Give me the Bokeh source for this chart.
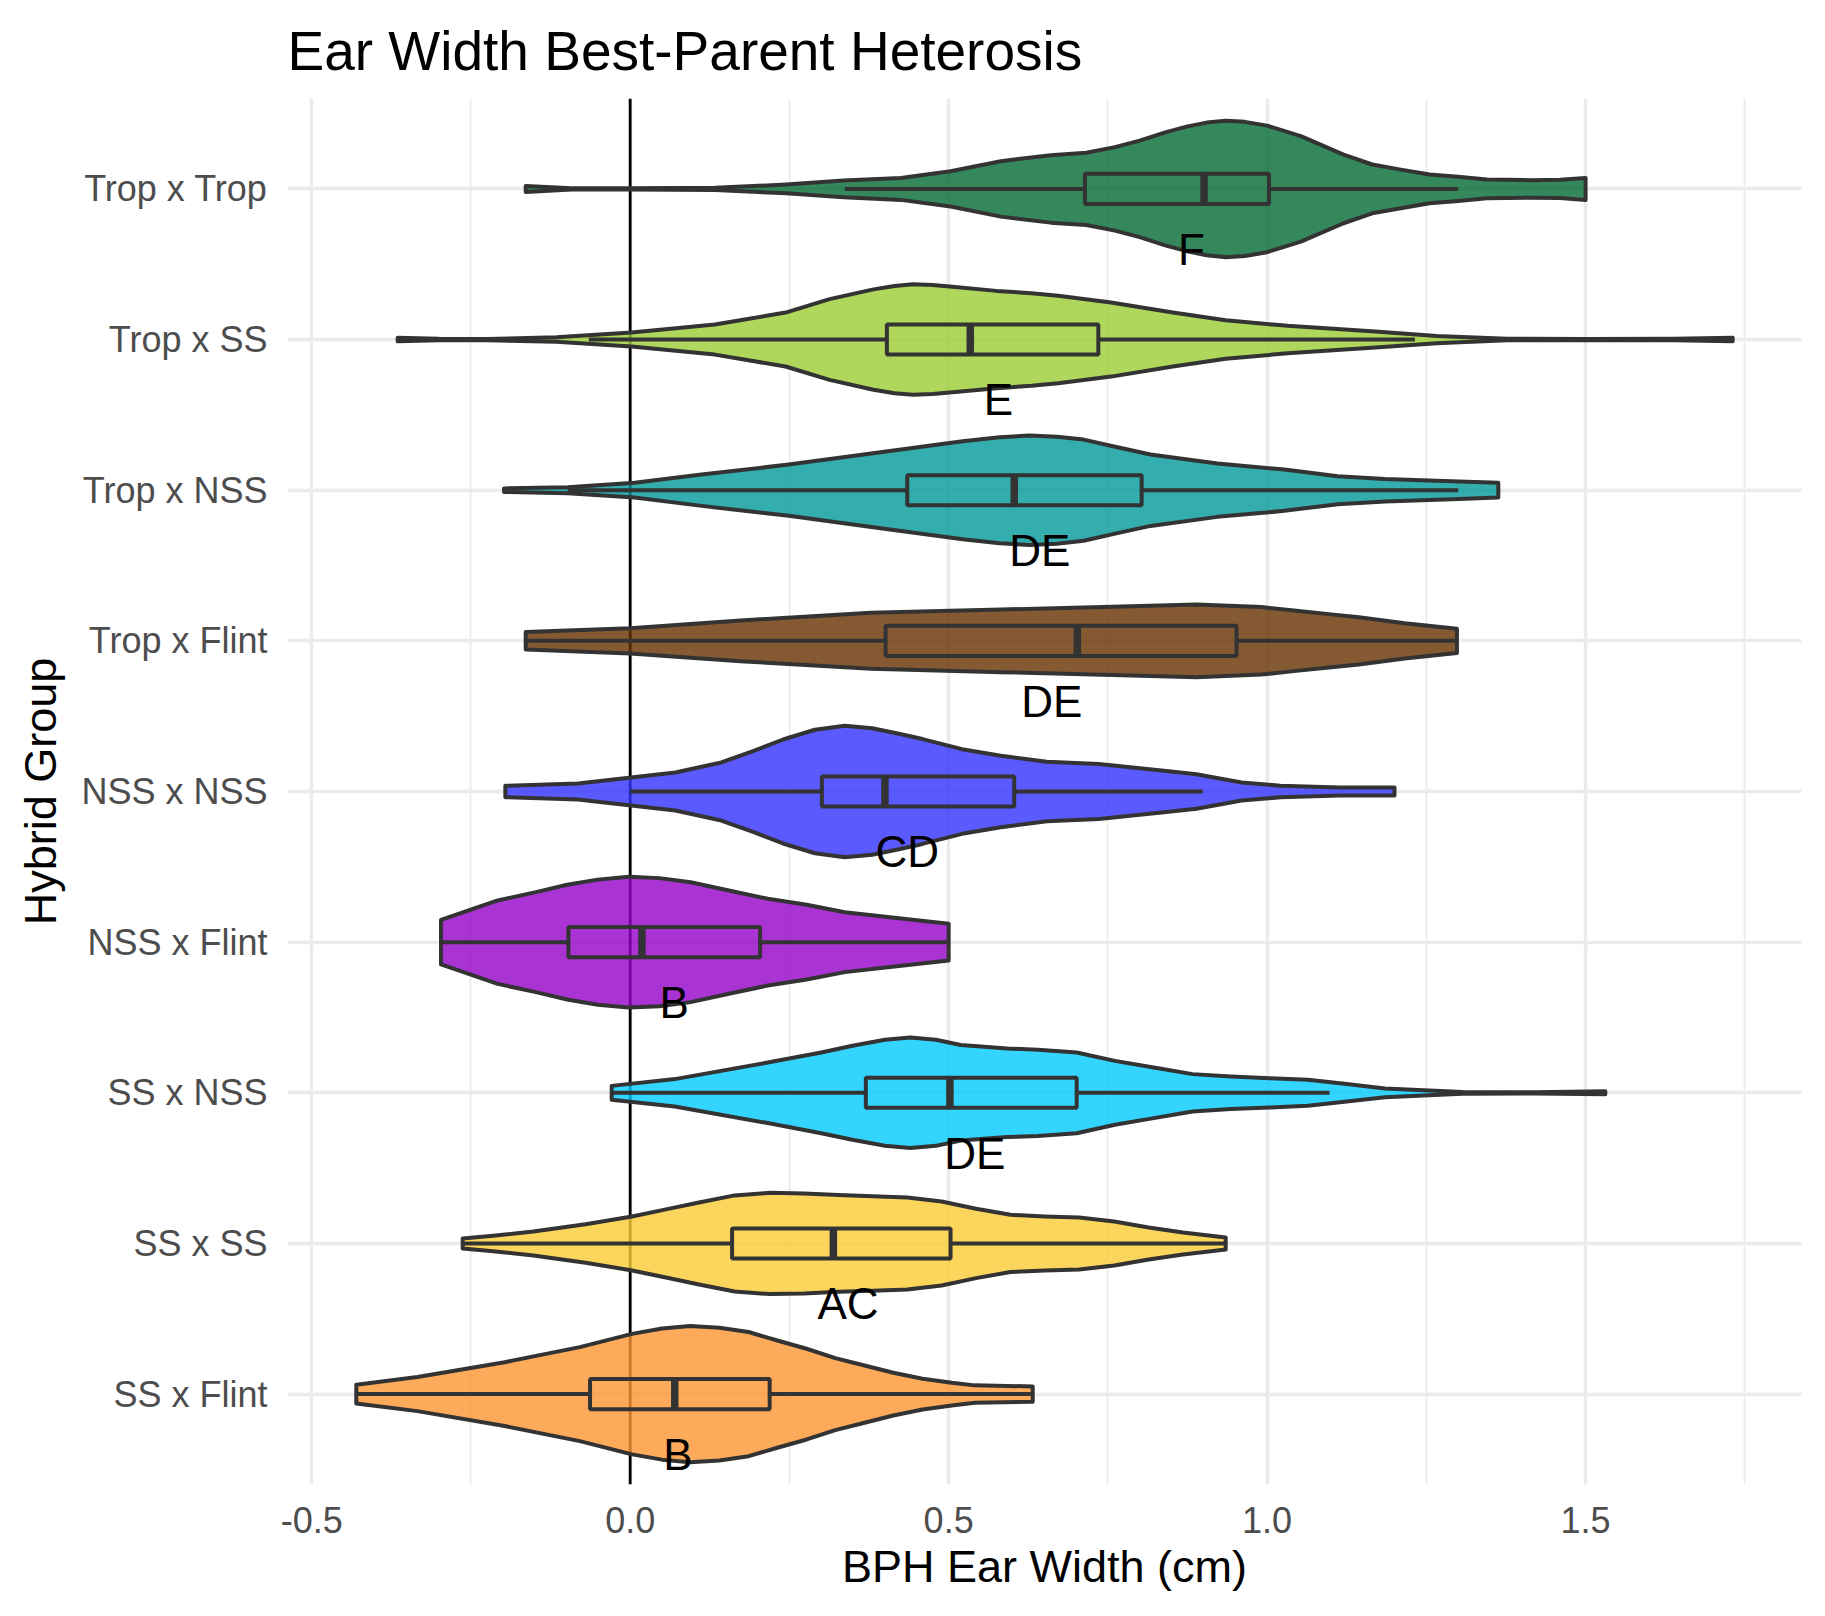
from bokeh.plotting import figure
from bokeh.models import Range1d, FixedTicker, Span
from bokeh.embed import file_html
from bokeh.resources import INLINE
from bokeh.core.properties import value

# ---- categories (bottom to top) ----
groups = ["SS x Flint", "SS x SS", "SS x NSS", "NSS x Flint", "NSS x NSS",
          "Trop x Flint", "Trop x NSS", "Trop x SS", "Trop x Trop"]
colors = ["#FD9631", "#FBCC33", "#00CBFF", "#9500C9", "#3131FF",
          "#663100", "#009898", "#9ACD32", "#026A33"]

# ---- violin outlines: x positions and half-widths (category units) ----
ss_flint_x = [-0.43, -0.334, -0.197, -0.079, 0.003, 0.05, 0.094, 0.14, 0.186, 0.231, 0.277, 0.322, 0.368, 0.413, 0.459, 0.505, 0.541, 0.632]
ss_flint_w = [0.062, 0.113, 0.212, 0.312, 0.40, 0.435, 0.452, 0.44, 0.412, 0.356, 0.301, 0.239, 0.19, 0.142, 0.102, 0.075, 0.058, 0.051]

ss_ss_x = [-0.263, -0.215, -0.152, -0.07, 0.003, 0.058, 0.11, 0.164, 0.219, 0.273, 0.327, 0.381, 0.435, 0.489, 0.543, 0.597, 0.651, 0.705, 0.76, 0.814, 0.868, 0.935]
ss_ss_w = [0.033, 0.051, 0.08, 0.128, 0.179, 0.228, 0.274, 0.319, 0.336, 0.332, 0.321, 0.314, 0.305, 0.279, 0.23, 0.19, 0.179, 0.173, 0.146, 0.106, 0.073, 0.04]

ss_nss_x = [-0.029, 0.07, 0.216, 0.30, 0.349, 0.40, 0.44, 0.48, 0.519, 0.592, 0.64, 0.701, 0.761, 0.822, 0.883, 0.943, 1.004, 1.064, 1.125, 1.185, 1.307, 1.42, 1.531]
ss_nss_w = [0.046, 0.091, 0.201, 0.268, 0.312, 0.352, 0.367, 0.352, 0.317, 0.294, 0.286, 0.268, 0.212, 0.168, 0.124, 0.108, 0.097, 0.086, 0.058, 0.029, 0.006, 0.004, 0.01]

nss_flint_x = [-0.297, -0.208, -0.148, -0.099, -0.051, -0.002, 0.046, 0.095, 0.155, 0.216, 0.277, 0.337, 0.422, 0.50]
nss_flint_w = [0.148, 0.277, 0.332, 0.381, 0.415, 0.434, 0.425, 0.398, 0.343, 0.288, 0.248, 0.199, 0.159, 0.122]

nss_nss_x = [-0.196, -0.082, 0.071, 0.143, 0.194, 0.24, 0.29, 0.337, 0.38, 0.42, 0.459, 0.521, 0.582, 0.654, 0.736, 0.838, 0.889, 0.96, 1.021, 1.114, 1.20]
nss_nss_w = [0.038, 0.053, 0.126, 0.193, 0.27, 0.345, 0.41, 0.436, 0.42, 0.385, 0.348, 0.281, 0.237, 0.197, 0.182, 0.137, 0.115, 0.06, 0.038, 0.027, 0.027]

trop_flint_x = [-0.164, 0.0, 0.173, 0.378, 0.582, 0.787, 0.889, 0.991, 1.042, 1.093, 1.144, 1.216, 1.298]
trop_flint_w = [0.058, 0.084, 0.135, 0.186, 0.208, 0.23, 0.241, 0.224, 0.201, 0.179, 0.157, 0.117, 0.08]

trop_nss_x = [-0.198, -0.098, 0.007, 0.112, 0.249, 0.396, 0.522, 0.58, 0.627, 0.67, 0.712, 0.765, 0.817, 0.922, 1.027, 1.111, 1.185, 1.29, 1.363]
trop_nss_w = [0.012, 0.02, 0.049, 0.104, 0.17, 0.254, 0.325, 0.352, 0.363, 0.355, 0.336, 0.285, 0.237, 0.177, 0.137, 0.093, 0.075, 0.06, 0.049]

trop_ss_x = [-0.365, -0.30, -0.226, -0.116, 0.002, 0.133, 0.244, 0.313, 0.382, 0.415, 0.444, 0.475, 0.506, 0.575, 0.63, 0.672, 0.755, 0.852, 0.935, 1.032, 1.17, 1.266, 1.377, 1.50, 1.64, 1.731]
trop_ss_w = [0.012, 0.005, 0.004, 0.015, 0.046, 0.10, 0.179, 0.268, 0.333, 0.356, 0.367, 0.362, 0.35, 0.323, 0.307, 0.29, 0.246, 0.179, 0.128, 0.091, 0.053, 0.024, 0.005, 0.004, 0.005, 0.012]

trop_trop_x = [-0.164, -0.092, 0.0, 0.133, 0.245, 0.335, 0.425, 0.503, 0.582, 0.66, 0.716, 0.761, 0.80, 0.84, 0.875, 0.905, 0.935, 0.965, 1.0, 1.053, 1.12, 1.165, 1.21, 1.255, 1.30, 1.345, 1.412, 1.46, 1.50]
trop_trop_w = [0.02, 0.004, 0.004, 0.007, 0.029, 0.055, 0.073, 0.117, 0.184, 0.224, 0.24, 0.277, 0.32, 0.375, 0.415, 0.44, 0.453, 0.445, 0.42, 0.35, 0.228, 0.162, 0.128, 0.095, 0.08, 0.062, 0.058, 0.06, 0.073]

violin_x = [ss_flint_x, ss_ss_x, ss_nss_x, nss_flint_x, nss_nss_x,
            trop_flint_x, trop_nss_x, trop_ss_x, trop_trop_x]
violin_w = [ss_flint_w, ss_ss_w, ss_nss_w, nss_flint_w, nss_nss_w,
            trop_flint_w, trop_nss_w, trop_ss_w, trop_trop_w]

# ---- box plot statistics ----
q1 = [-0.063, 0.16, 0.37, -0.097, 0.301, 0.401, 0.435, 0.403, 0.714]
med = [0.07, 0.319, 0.502, 0.0185, 0.40, 0.702, 0.603, 0.534, 0.901]
q3 = [0.219, 0.503, 0.701, 0.204, 0.603, 0.952, 0.803, 0.735, 1.003]
wlo = [-0.43, -0.263, -0.029, -0.297, 0.0, -0.164, -0.098, -0.065, 0.337]
whi = [0.632, 0.933, 1.098, 0.50, 0.899, 1.298, 1.30, 1.232, 1.30]

# ---- significance letters ----
letters = ["B", "AC", "DE", "B", "CD", "DE", "DE", "E", "F"]
letter_x = [0.075, 0.342, 0.541, 0.069, 0.435, 0.662, 0.643, 0.578, 0.881]

x_ticks = [-0.5, 0.0, 0.5, 1.0, 1.5]
x_minor = [-0.25, 0.25, 0.75, 1.25, 1.75]
x_tick_labels = ["-0.5", "0.0", "0.5", "1.0", "1.5"]

FONT = "Liberation Sans"
OUT = "#333333"
LW = 4.0

pos = list(range(1, len(groups) + 1))

p = figure(width=1825, height=1616, output_backend="svg", toolbar_location=None,
           x_range=Range1d(-0.538, 1.839), y_range=Range1d(0.4, 9.6),
           min_border_left=287, min_border_right=24, min_border_top=98,
           min_border_bottom=132, title="Ear Width Best-Parent Heterosis")
p.background_fill_color = "white"
p.border_fill_color = "white"
p.outline_line_color = None

p.title.text_font = FONT
p.title.text_font_size = "55px"
p.title.text_font_style = "normal"
p.title.text_color = "black"
p.title.standoff = 34
p.title.offset = 0

# axes
p.xaxis.ticker = FixedTicker(ticks=x_ticks, minor_ticks=x_minor)
p.xaxis.major_label_overrides = {t: l for t, l in zip(x_ticks, x_tick_labels)}
p.yaxis.ticker = FixedTicker(ticks=pos)
p.yaxis.major_label_overrides = {k: g for k, g in zip(pos, groups)}
for ax in (p.xaxis, p.yaxis):
    ax.axis_line_color = None
    ax.major_tick_line_color = None
    ax.minor_tick_line_color = None
    ax.major_tick_out = 0
    ax.major_tick_in = 0
    ax.major_label_text_font = FONT
    ax.major_label_text_font_size = "36px"
    ax.major_label_text_color = "#4D4D4D"
    ax.axis_label_text_font = FONT
    ax.axis_label_text_font_size = "45px"
    ax.axis_label_text_font_style = "normal"
    ax.axis_label_text_color = "black"
p.xaxis.axis_label = "BPH Ear Width (cm)"
p.yaxis.axis_label = "Hybrid Group"
p.xaxis.major_label_standoff = 18
p.xaxis.axis_label_standoff = 5
p.yaxis.major_label_standoff = 20
p.yaxis.axis_label_standoff = 12

# grid
p.xgrid.grid_line_color = "#EBEBEB"
p.xgrid.grid_line_width = 3.5
p.xgrid.minor_grid_line_color = "#EBEBEB"
p.xgrid.minor_grid_line_width = 1.8
p.ygrid.grid_line_color = "#EBEBEB"
p.ygrid.grid_line_width = 3.5

# reference line at zero (beneath the violins)
p.add_layout(Span(location=0, dimension="height", line_color="black",
                  line_width=2.8, level="underlay"))

# violins
xs, ys = [], []
for c, vx, vw in zip(pos, violin_x, violin_w):
    xs.append(list(vx) + list(vx)[::-1])
    ys.append([c + w for w in vw] + [c - w for w in vw][::-1])
p.patches(xs=xs, ys=ys, fill_color=colors, fill_alpha=0.8,
          line_color=OUT, line_width=LW, line_join="round")

# box plots
bw = 0.1
p.segment(x0=wlo, y0=pos, x1=q1, y1=pos, line_color=OUT, line_width=LW)
p.segment(x0=q3, y0=pos, x1=whi, y1=pos, line_color=OUT, line_width=LW)
p.quad(left=q1, right=q3, bottom=[c - bw for c in pos], top=[c + bw for c in pos],
       fill_color=None, line_color=OUT, line_width=LW)
p.segment(x0=med, y0=[c - bw for c in pos], x1=med, y1=[c + bw for c in pos],
          line_color=OUT, line_width=7.5)

# letters
p.text(x=letter_x, y=[c - 0.4 for c in pos], text=letters,
       text_font=value(FONT), text_font_size="44px", text_color="black",
       text_align="center", text_baseline="middle")

open("out.html", "w").write(file_html(p, INLINE))
